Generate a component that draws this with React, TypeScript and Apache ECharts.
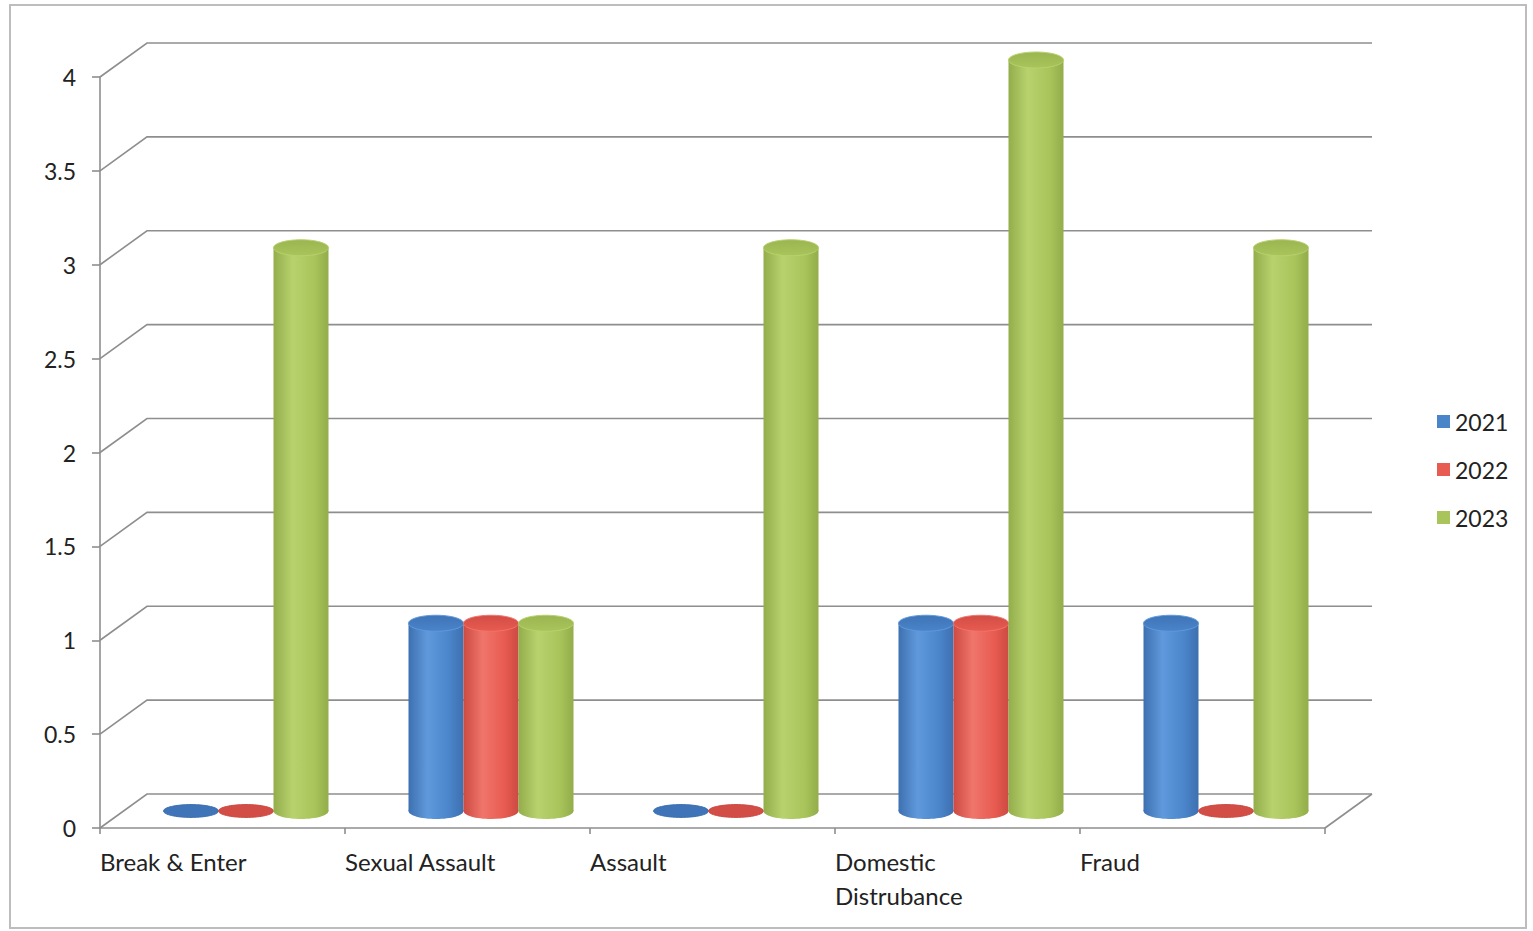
import React, { useEffect, useRef } from "react";
import * as echarts from "echarts";

// Crime categories and yearly counts
const categories = ["Break & Enter", "Sexual Assault", "Assault", "Domestic\nDistrubance", "Fraud"];
const years = ["2021", "2022", "2023"];
const values2021 = [0, 1, 0, 1, 1];
const values2022 = [0, 1, 0, 1, 0];
const values2023 = [3, 1, 3, 4, 3];
const yTicks = [0, 0.5, 1, 1.5, 2, 2.5, 3, 3.5, 4];

const seriesValues = [values2021, values2022, values2023];

// Cylinder shading per year
const palettes = [
  { main: "#4a84c9", light: "#609add", dark: "#3d70b0", top: "#3f74b8" },
  { main: "#e85b51", light: "#f0756b", dark: "#cc4a42", top: "#d24d45" },
  { main: "#a8c45a", light: "#b8d26e", dark: "#92ad4a", top: "#9bb651" },
];

// Perspective depth of the floor/walls in pixels
const DEPTH_X = 47;
const DEPTH_Y = 34;
const BAR_W = 0.2245; // in category units
const ELLIPSE_RY = 8;
const GRID_COLOR = "#8e8e8e";
const TEXT_COLOR = "#222";
const FONT = "Lato, 'Open Sans', sans-serif";
const FONT_SIZE = 23;

function cylinderFill(p: { main: string; light: string; dark: string }) {
  return new echarts.graphic.LinearGradient(0, 0, 1, 0, [
    { offset: 0, color: p.dark },
    { offset: 0.35, color: p.light },
    { offset: 0.75, color: p.main },
    { offset: 1, color: p.dark },
  ]);
}

export default function App() {
  const ref = useRef<HTMLDivElement>(null);

  useEffect(() => {
    document.body.style.margin = "0";
    if (!ref.current) return;
    const chart = echarts.init(ref.current, null, { renderer: "svg" });

    // Floor, left wall and back wall gridlines, one per y tick
    const wallSeries = {
      type: "custom",
      silent: true,
      clip: false,
      z: 1,
      data: yTicks.map((v) => [0, v]),
      renderItem: (_params: any, api: any) => {
        const v = api.value(1);
        const p = api.coord([0, v]);
        const pe = api.coord([5, v]);
        const children: any[] = [
          {
            type: "polyline",
            shape: {
              points: [
                [p[0], p[1]],
                [p[0] + DEPTH_X, p[1] - DEPTH_Y],
                [pe[0] + DEPTH_X, p[1] - DEPTH_Y],
              ],
            },
            style: { stroke: GRID_COLOR, lineWidth: 1.6, fill: "none" },
          },
        ];
        if (v === 0) {
          children.push({
            type: "line",
            shape: { x1: pe[0], y1: pe[1], x2: pe[0] + DEPTH_X, y2: pe[1] - DEPTH_Y },
            style: { stroke: GRID_COLOR, lineWidth: 1.6 },
          });
        }
        return { type: "group", children };
      },
    };

    const barSeries = years.map((year, s) => {
      const pal = palettes[s];
      return {
        type: "custom",
        name: year,
        clip: false,
        z: 2 + s,
        itemStyle: { color: pal.main },
        data: seriesValues[s].map((v, i) => [i, v]),
        renderItem: (_params: any, api: any) => {
          const i = api.value(0);
          const v = api.value(1);
          const cx = api.coord([i + 0.5 + (s - 1) * BAR_W, 0])[0] + DEPTH_X / 2;
          const base = api.coord([0, 0])[1] - DEPTH_Y / 2;
          const top = api.coord([0, v])[1] - DEPTH_Y / 2;
          const w = api.size([BAR_W, 0])[0];
          const rx = w / 2;
          if (v === 0) {
            return {
              type: "ellipse",
              shape: { cx, cy: base, rx, ry: ELLIPSE_RY * 0.8 },
              style: { fill: pal.top, stroke: pal.dark, lineWidth: 1 },
            };
          }
          return {
            type: "group",
            children: [
              {
                type: "ellipse",
                shape: { cx, cy: base, rx, ry: ELLIPSE_RY },
                style: { fill: cylinderFill(pal) },
              },
              {
                type: "rect",
                shape: { x: cx - rx, y: top, width: w, height: base - top },
                style: { fill: cylinderFill(pal) },
              },
              {
                type: "ellipse",
                shape: { cx, cy: top, rx, ry: ELLIPSE_RY },
                style: {
                  fill: new echarts.graphic.LinearGradient(0, 0, 0, 1, [
                    { offset: 0, color: pal.top },
                    { offset: 1, color: pal.main },
                  ]),
                  stroke: pal.light,
                  lineWidth: 1,
                },
              },
            ],
          };
        },
      };
    });

    chart.setOption({
      animation: false,
      backgroundColor: "#ffffff",
      textStyle: { fontFamily: FONT },
      graphic: [
        {
          type: "rect",
          shape: { x: 10, y: 5, width: 1516, height: 923 },
          style: { fill: "none", stroke: "#bdbdbd", lineWidth: 2 },
          silent: true,
        },
      ],
      legend: {
        orient: "vertical",
        left: 1432,
        top: 405,
        itemWidth: 13,
        itemHeight: 13,
        itemGap: 25,
        icon: "rect",
        data: years,
        textStyle: { fontSize: FONT_SIZE, color: TEXT_COLOR, fontFamily: FONT },
      },
      grid: { left: 100, top: 77, width: 1225, height: 751, containLabel: false },
      xAxis: {
        type: "value",
        min: 0,
        max: 5,
        interval: 1,
        splitLine: { show: false },
        axisLine: { show: true, lineStyle: { color: GRID_COLOR, width: 1.6 } },
        axisTick: { show: true, length: 6, lineStyle: { color: GRID_COLOR, width: 1.6 } },
        axisLabel: {
          formatter: (v: number) => categories[v] ?? "",
          align: "left",
          margin: 16,
          fontSize: 24,
          lineHeight: 34,
          color: TEXT_COLOR,
          fontFamily: FONT,
        },
      },
      yAxis: {
        type: "value",
        min: 0,
        max: 4,
        interval: 0.5,
        splitLine: { show: false },
        axisLine: { show: true, lineStyle: { color: GRID_COLOR, width: 1.6 } },
        axisTick: { show: true, length: 8, lineStyle: { color: GRID_COLOR, width: 1.6 } },
        axisLabel: { margin: 24, fontSize: FONT_SIZE, color: TEXT_COLOR, fontFamily: FONT },
      },
      series: [wallSeries, ...barSeries],
    });

    return () => chart.dispose();
  }, []);

  return <div ref={ref} style={{ width: 1533, height: 931 }} />;
}
